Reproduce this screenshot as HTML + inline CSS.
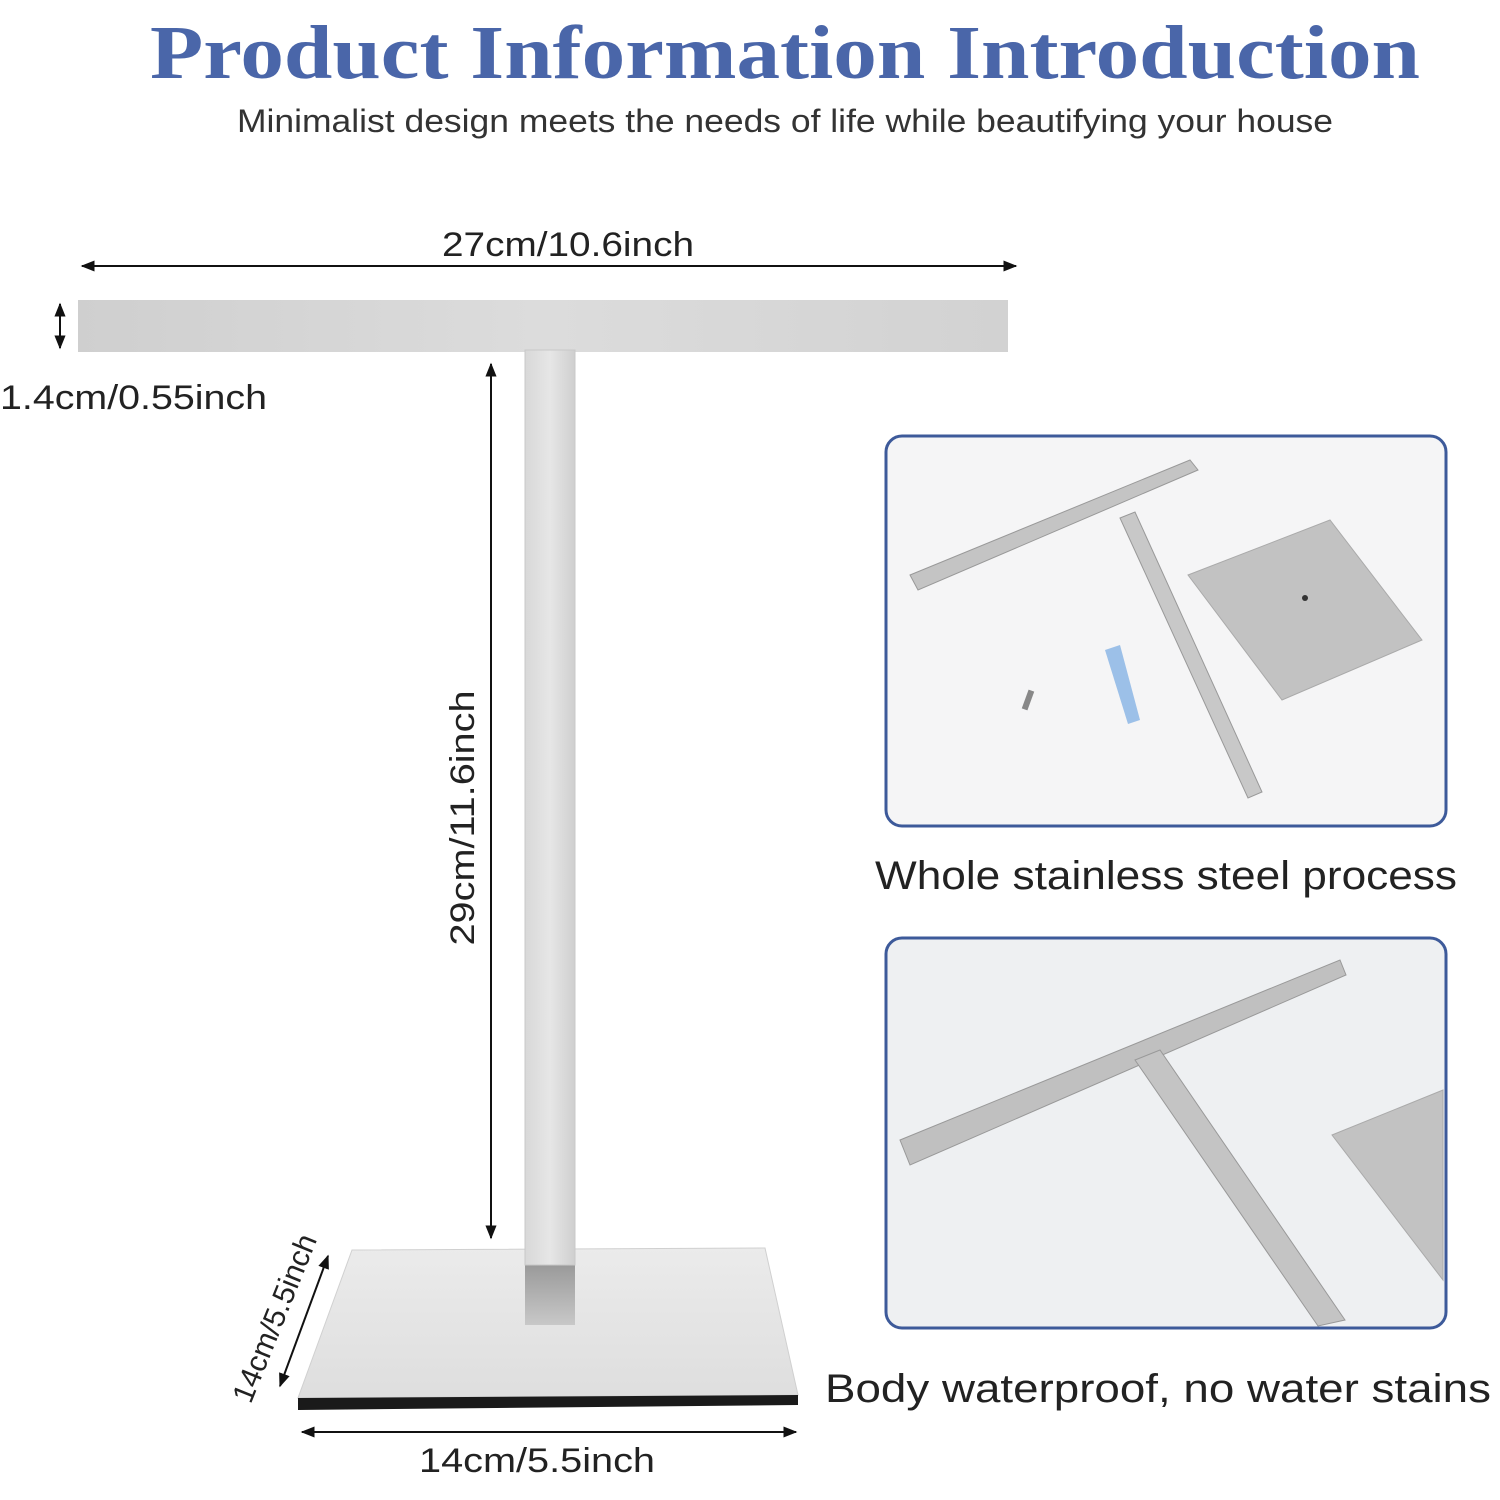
<!DOCTYPE html>
<html><head><style>
body{margin:0;background:#fff;}
svg{display:block;}
</style></head><body>
<svg width="1500" height="1500" viewBox="0 0 1500 1500" xmlns="http://www.w3.org/2000/svg">
<defs>
<linearGradient id="bar" x1="0" y1="0" x2="1" y2="0">
<stop offset="0" stop-color="#cfcfcf"/><stop offset="0.5" stop-color="#dcdcdc"/><stop offset="1" stop-color="#d2d2d2"/></linearGradient>
<linearGradient id="post" x1="0" y1="0" x2="1" y2="0">
<stop offset="0" stop-color="#d8d8d8"/><stop offset="0.5" stop-color="#e6e6e6"/><stop offset="1" stop-color="#cfcfcf"/></linearGradient>
<linearGradient id="base" x1="0" y1="0" x2="0" y2="1">
<stop offset="0" stop-color="#ebebeb"/><stop offset="1" stop-color="#dedede"/></linearGradient>
<linearGradient id="shade" x1="0" y1="0" x2="0" y2="1">
<stop offset="0" stop-color="#9a9a9a"/><stop offset="1" stop-color="#c8c8c8"/></linearGradient>
<marker id="ah" viewBox="0 0 10 10" refX="9" refY="5" markerWidth="7" markerHeight="7" orient="auto-start-reverse"><path d="M0,1 L10,5 L0,9 z" fill="#111"/></marker>
</defs>
<text x="785" y="78" text-anchor="middle" font-family="Liberation Serif, serif" font-weight="bold" font-size="76" fill="#4a66a9" textLength="1270" lengthAdjust="spacingAndGlyphs">Product Information Introduction</text>
<text x="785" y="132" text-anchor="middle" font-family="Liberation Sans, sans-serif" font-size="32" fill="#333" textLength="1096" lengthAdjust="spacingAndGlyphs">Minimalist design meets the needs of life while beautifying your house</text>

<text x="568" y="256" text-anchor="middle" font-family="Liberation Sans, sans-serif" font-size="34" fill="#222" textLength="252" lengthAdjust="spacingAndGlyphs">27cm/10.6inch</text>
<line x1="82" y1="266" x2="1016" y2="266" stroke="#111" stroke-width="2" marker-start="url(#ah)" marker-end="url(#ah)"/>
<rect x="78" y="300" width="930" height="52" fill="url(#bar)"/>
<line x1="60" y1="304" x2="60" y2="348" stroke="#111" stroke-width="2" marker-start="url(#ah)" marker-end="url(#ah)"/>
<text x="0" y="409" font-family="Liberation Sans, sans-serif" font-size="34" fill="#222" textLength="267" lengthAdjust="spacingAndGlyphs">1.4cm/0.55inch</text>

<polygon points="352,1250 765,1248 798,1395 298,1398" fill="url(#base)" stroke="#d0d0d0"/>
<polygon points="298,1398 798,1395 798,1405 298,1410" fill="#1a1a1a"/>
<rect x="525" y="1265" width="50" height="60" fill="url(#shade)"/>
<rect x="525" y="350" width="50" height="915" fill="url(#post)" stroke="#c8c8c8" stroke-width="1"/>
<line x1="491" y1="364" x2="491" y2="1238" stroke="#111" stroke-width="2" marker-start="url(#ah)" marker-end="url(#ah)"/>
<text transform="translate(474,818) rotate(-90)" text-anchor="middle" font-family="Liberation Sans, sans-serif" font-size="34" fill="#222" textLength="255" lengthAdjust="spacingAndGlyphs">29cm/11.6inch</text>
<line x1="328" y1="1256" x2="280" y2="1386" stroke="#111" stroke-width="2" marker-start="url(#ah)" marker-end="url(#ah)"/>
<text transform="translate(284,1322) rotate(-68)" text-anchor="middle" font-family="Liberation Sans, sans-serif" font-size="30" fill="#222">14cm/5.5inch</text>
<line x1="302" y1="1432" x2="796" y2="1432" stroke="#111" stroke-width="2" marker-start="url(#ah)" marker-end="url(#ah)"/>
<text x="537" y="1472" text-anchor="middle" font-family="Liberation Sans, sans-serif" font-size="34" fill="#222" textLength="236" lengthAdjust="spacingAndGlyphs">14cm/5.5inch</text>

<rect x="886" y="436" width="560" height="390" rx="16" fill="#f5f5f6" stroke="#3d5a9a" stroke-width="3"/>
<polygon points="910,575 1190,460 1198,470 918,590" fill="#c4c4c4" stroke="#999"/>
<polygon points="1120,518 1135,512 1262,792 1248,798" fill="#c8c8c8" stroke="#999"/>
<polygon points="1188,575 1330,520 1422,640 1282,700" fill="#c2c2c2" stroke="#aaa"/>
<circle cx="1305" cy="598" r="3" fill="#333"/>
<polygon points="1105,650 1120,645 1140,720 1128,724" fill="#9cc0e8"/>
<rect x="1025" y="690" width="6" height="20" fill="#888" transform="rotate(20 1028 700)"/>
<text x="1166" y="889" text-anchor="middle" font-family="Liberation Sans, sans-serif" font-size="40" fill="#222" textLength="582" lengthAdjust="spacingAndGlyphs">Whole stainless steel process</text>

<rect x="886" y="938" width="560" height="390" rx="16" fill="#eef0f2" stroke="#3d5a9a" stroke-width="3"/>
<polygon points="900,1140 1340,960 1346,975 910,1165" fill="#c0c0c0" stroke="#999"/>
<polygon points="1135,1060 1160,1050 1345,1320 1318,1326" fill="#c4c4c4" stroke="#999"/>
<polygon points="1332,1135 1443,1090 1443,1280" fill="#c2c2c2" stroke="#aaa"/>
<text x="1158" y="1402" text-anchor="middle" font-family="Liberation Sans, sans-serif" font-size="40" fill="#222" textLength="666" lengthAdjust="spacingAndGlyphs">Body waterproof, no water stains</text>
</svg>
</body></html>
